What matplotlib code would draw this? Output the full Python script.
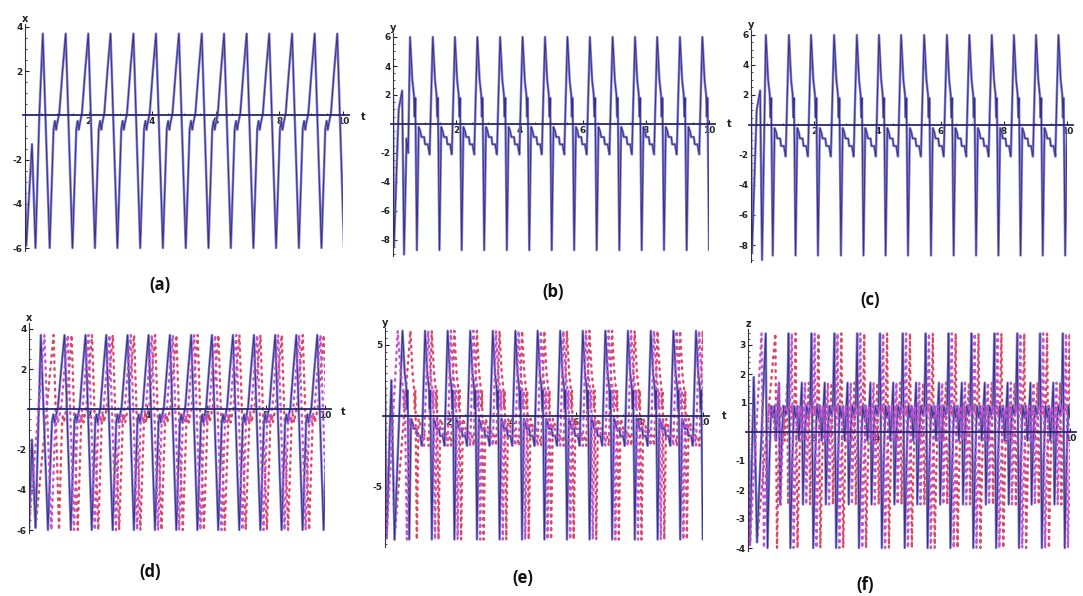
import numpy as np
import matplotlib.pyplot as plt
from matplotlib.patches import Rectangle
from matplotlib.ticker import MultipleLocator, FixedLocator

plt.rcParams['axes.unicode_minus'] = False

W, H = 1083, 596

# one cycle of each signal: phase (0 = crest) and value
X_PHASE = [0.00, 0.30, 0.47, 0.53, 0.58, 0.62, 0.72, 0.86]
X_VALUE = [3.7, -6.0, -0.6, -0.25, -0.65, -0.4, 0.1, 2.0]
Y_PHASE = [0.00, 0.10, 0.17, 0.20, 0.23, 0.30, 0.38, 0.45, 0.50, 0.62, 0.66, 0.78, 0.86, 0.92]
Y_VALUE = [6.0, 3.0, 2.0, 0.5, 1.8, -8.7, -0.2, -0.5, -0.9, -0.9, -1.4, -1.4, -2.1, 1.5]
Z_PHASE = [0.00, 0.08, 0.16, 0.24, 0.31, 0.38, 0.45, 0.52, 0.58, 0.63, 0.71, 0.79, 0.87, 0.94]
Z_VALUE = [3.4, -4.0, -1.0, 0.9, 0.5, 0.9, -0.3, 0.8, 1.7, -2.5, 0.0, 0.9, 0.6, 0.9]

# crest times of each curve
A_PEAKS = [0.56, 1.28, 1.99, 2.69, 3.41, 4.12, 4.84, 5.56, 6.26, 6.97, 7.68, 8.40, 9.11, 9.82]
B_PEAKS = [0.54, 1.26, 1.96, 2.67, 3.39, 4.10, 4.81, 5.52, 6.23, 6.95, 7.66, 8.36, 9.08, 9.79]
C_PEAKS = [0.47, 1.20, 1.90, 2.63, 3.35, 4.05, 4.75, 5.48, 6.20, 6.91, 7.62, 8.32, 9.02, 9.73]
D_SOLID = [0.40, 1.20, 1.91, 2.61, 3.33, 4.04, 4.76, 5.48, 6.18, 6.89, 7.60, 8.32, 9.03, 9.74]
D_MAGENTA = [0.52, 1.31, 2.01, 2.72, 3.44, 4.15, 4.86, 5.58, 6.29, 7.00, 7.71, 8.42, 9.13, 9.85]
D_RED = [0.83, 1.44, 2.13, 2.83, 3.55, 4.26, 4.98, 5.70, 6.40, 7.11, 7.82, 8.54, 9.25, 9.96]
E_SOLID = [0.55, 1.26, 1.97, 2.68, 3.39, 4.10, 4.80, 5.51, 6.22, 6.93, 7.64, 8.36, 9.07, 9.78]
E_MAGENTA = [0.40, 1.36, 2.07, 2.78, 3.49, 4.20, 4.90, 5.61, 6.32, 7.03, 7.74, 8.46, 9.17, 9.88]
E_RED = [0.80, 1.47, 2.18, 2.89, 3.60, 4.31, 5.01, 5.72, 6.43, 7.14, 7.85, 8.57, 9.28, 9.99]
F_SOLID = [0.55, 1.26, 1.97, 2.68, 3.39, 4.10, 4.81, 5.52, 6.23, 6.94, 7.65, 8.36, 9.07, 9.78]
F_MAGENTA = [0.42, 1.36, 2.07, 2.78, 3.49, 4.20, 4.91, 5.62, 6.33, 7.04, 7.75, 8.46, 9.17, 9.88]
F_RED = [0.85, 1.48, 2.19, 2.90, 3.61, 4.32, 5.03, 5.74, 6.45, 7.16, 7.87, 8.58, 9.29, 9.99]

# start-up transients before the first crest (t, value)
A_PRE_T = [0.0, 0.04, 0.22, 0.33, 0.45]
A_PRE_V = [-2.8, -5.9, -1.3, -6.0, 0.0]
B_PRE_T = [0.0, 0.03, 0.18, 0.29, 0.35, 0.43, 0.48]
B_PRE_V = [1.8, -8.5, 1.0, 2.3, -9.0, -1.0, -2.0]
D_PRE_T = [0.0, 0.1, 0.22]
D_PRE_V = [-5.9, -1.5, -5.9]
E_PRE_T = [0.0, 0.05, 0.2, 0.3]
E_PRE_V = [2.0, -8.6, 2.5, -8.7]
F_PRE_T = [0.0, 0.06, 0.18, 0.28]
F_PRE_V = [1.6, -3.9, 1.9, -3.8]

X_TICKS = [2, 4, 6, 8, 10]

NAVY = '#2a2670'
LIGHT = '#8580d8'
RED = '#d8405a'
MAGENTA = '#c24ad2'


def build(peaks, phase, value, pre_t, pre_v):
    t = list(pre_t)
    v = list(pre_v)
    ends = peaks + [peaks[-1] + (peaks[-1] - peaks[-2])]
    for p0, p1 in zip(ends[:-1], ends[1:]):
        for ph, val in zip(phase, value):
            t.append(p0 + ph * (p1 - p0))
            v.append(val)
    t.append(ends[-1])
    v.append(value[0])
    return np.array(t), np.array(v)


def axes_box(t0_px, t10_px, ya, ya_px, yb, yb_px, xlim, ylim):
    sx = (t10_px - t0_px) / 10.0
    sy = (yb_px - ya_px) / (yb - ya)
    left = t0_px + xlim[0] * sx
    right = t0_px + xlim[1] * sx
    top = ya_px + (ylim[1] - ya) * sy
    bot = ya_px + (ylim[0] - ya) * sy
    return [left / W, 1 - bot / H, (right - left) / W, (bot - top) / H]


def style(ax, xlim, ylim, yticks, yminor):
    ax.set_xlim(*xlim)
    ax.set_ylim(*ylim)
    for s in ['top', 'right']:
        ax.spines[s].set_visible(False)
    ax.spines['left'].set_position(('data', 0))
    ax.spines['bottom'].set_position(('data', 0))
    ax.spines['left'].set_color('#333344')
    ax.spines['bottom'].set_color(NAVY)
    ax.spines['bottom'].set_linewidth(1.3)
    ax.spines['bottom'].set_zorder(5)
    ax.xaxis.set_major_locator(FixedLocator(X_TICKS))
    ax.xaxis.set_minor_locator(MultipleLocator(0.5))
    ax.yaxis.set_major_locator(FixedLocator(yticks))
    ax.yaxis.set_minor_locator(MultipleLocator(yminor))
    ax.tick_params(which='major', direction='in', length=3, width=0.8,
                   labelsize=6.5, pad=1.5, colors='#222222')
    ax.tick_params(which='minor', direction='in', length=1.5, width=0.5)
    for lab in ax.get_xticklabels() + ax.get_yticklabels():
        lab.set_fontweight('bold')
    ax.patch.set_alpha(0)


def draw(ax, t, v, kind):
    clip = Rectangle((0, -50), 10, 100, transform=ax.transData)
    if kind == 'solid':
        lines = ax.plot(t, v, color=LIGHT, lw=1.8)
        lines += ax.plot(t, v, color=NAVY, lw=0.7, alpha=0.85)
    else:
        col = RED if kind == 'red' else MAGENTA
        lines = ax.plot(t, v, color=col, lw=1.7, ls=(0, (0.7, 2.2)),
                        dash_capstyle='round', alpha=0.95)
    for ln in lines:
        ln.set_clip_path(clip)


fig = plt.figure(figsize=(W / 100, H / 100), dpi=100)

panels = [
    # t0px, t10px, ya, ya_px, yb, yb_px, xlim, ylim, yticks, yminor, var, curves
    (25, 343, 4, 27, -6, 248, (-0.05, 10.2), (-6.15, 4.15), [-6, -4, -2, 2, 4], 0.5, 'x',
     [(A_PEAKS, X_PHASE, X_VALUE, A_PRE_T, A_PRE_V, 'solid')]),
    (393, 709, 6, 37, -8, 240, (-0.05, 10.2), (-9.1, 6.3), [-8, -6, -4, -2, 2, 4, 6], 0.5, 'y',
     [(B_PEAKS, Y_PHASE, Y_VALUE, B_PRE_T, B_PRE_V, 'solid')]),
    (751, 1067, 6, 35, -8, 245, (-0.05, 10.2), (-9.1, 6.3), [-8, -6, -4, -2, 2, 4, 6], 0.5, 'y',
     [(C_PEAKS, Y_PHASE, Y_VALUE, B_PRE_T[:-2], B_PRE_V[:-2], 'solid')]),
    (29, 325, 4, 329, -6, 530, (-0.05, 10.2), (-6.15, 4.3), [-6, -4, -2, 2, 4], 0.5, 'x',
     [(D_RED, X_PHASE, X_VALUE, D_PRE_T, D_PRE_V, 'red'),
      (D_SOLID, X_PHASE, X_VALUE, D_PRE_T, D_PRE_V, 'solid'),
      (D_MAGENTA, X_PHASE, X_VALUE, D_PRE_T[:1], D_PRE_V[:1], 'magenta')]),
    (385, 703, 5, 345, -5, 487, (-0.05, 10.2), (-9.2, 6.2), [-5, 5], 0.5, 'y',
     [(E_RED, Y_PHASE, Y_VALUE, E_PRE_T, E_PRE_V, 'red'),
      (E_SOLID, Y_PHASE, Y_VALUE, E_PRE_T, E_PRE_V, 'solid'),
      (E_MAGENTA, Y_PHASE, Y_VALUE, E_PRE_T[:2], E_PRE_V[:2], 'magenta')]),
    (748, 1070, 3, 345, -4, 548, (-0.05, 10.2), (-4.1, 3.55), [-4, -3, -2, -1, 1, 2, 3], 0.2, 'z',
     [(F_RED, Z_PHASE, Z_VALUE, F_PRE_T, F_PRE_V, 'red'),
      (F_SOLID, Z_PHASE, Z_VALUE, F_PRE_T, F_PRE_V, 'solid'),
      (F_MAGENTA, Z_PHASE, Z_VALUE, F_PRE_T[:2], F_PRE_V[:2], 'magenta')]),
]

for (t0, t10, ya, yap, yb, ybp, xlim, ylim, yticks, yminor, var, curves) in panels:
    ax = fig.add_axes(axes_box(t0, t10, ya, yap, yb, ybp, xlim, ylim))
    style(ax, xlim, ylim, yticks, yminor)
    for pk, ph, val, pt, pv, kind in curves:
        t, v = build(pk, ph, val, pt, pv)
        draw(ax, t, v, kind)
    ax.text(0, 1.0, var, transform=ax.get_xaxis_transform(), ha='center',
            va='bottom', fontsize=7, fontweight='bold', color='#222222')

# axis names and panel captions, in figure pixels
for txt, px, py in [('t', 363, 117), ('t', 729, 124), ('t', 343, 412), ('t', 724, 416)]:
    fig.text(px / W, 1 - py / H, txt, ha='center', va='center', fontsize=7,
             fontweight='bold', color='#222222')

for txt, px, py in [('(a)', 160, 285), ('(b)', 553, 292), ('(c)', 870, 300),
                    ('(d)', 150, 572), ('(e)', 523, 578), ('(f)', 865, 585)]:
    fig.text(px / W, 1 - py / H, txt, ha='center', va='center', fontsize=12,
             fontweight='bold', family='Open Sans', color='#111111')

fig.savefig('out.png', dpi=100)
